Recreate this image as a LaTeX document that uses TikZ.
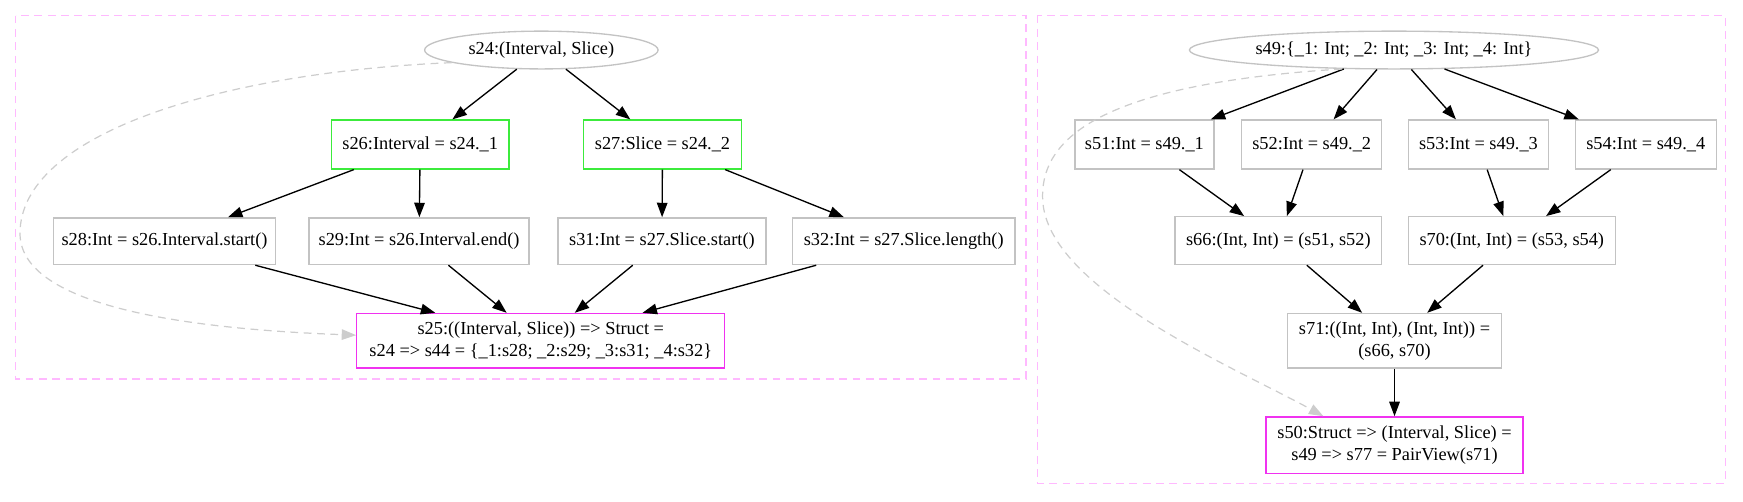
\documentclass[tikz,border=0pt]{standalone}
\usepackage{fontspec}
\setmainfont{Liberation Serif}
\usetikzlibrary{arrows.meta,shapes.geometric}
\definecolor{clpink}{RGB}{255,185,255}
\definecolor{nodegray}{RGB}{195,195,195}
\definecolor{dashgray}{RGB}{205,205,205}
\definecolor{grn}{RGB}{60,235,60}
\definecolor{mag}{RGB}{240,50,240}
\begin{document}
\begin{tikzpicture}[x=1pt,y=-1pt,
 font=\fontsize{16.5}{20}\selectfont,
 box/.style={draw=nodegray, line width=1.2pt, rectangle, inner sep=0pt, align=center},
 ell/.style={draw=nodegray, line width=1.2pt, ellipse, inner sep=0pt},
 grnbox/.style={box, draw=grn},
 magbox/.style={box, draw=mag},
 cluster/.style={draw=clpink, line width=1.1pt, dash pattern=on 7pt off 5pt},
 edge/.style={-{Triangle[length=13pt,width=9.5pt]}, line width=1.2pt, black},
 dedge/.style={-{Triangle[length=13pt,width=9.5pt]}, line width=1.1pt, dashgray, dash pattern=on 7pt off 5pt}]
\useasboundingbox (0,0) rectangle (1568,451);
% clusters
\draw[cluster] (14,14) rectangle (923,341);
\draw[cluster] (933,14) rectangle (1552,435);
% left cluster nodes
\node[ell, minimum width=210pt, minimum height=34pt] (s24) at (487,45) {s24:(Interval, Slice)};
\node[grnbox, minimum width=160pt, minimum height=44pt] (s26) at (378,130) {s26:Interval = s24.\_1};
\node[grnbox, minimum width=142pt, minimum height=44pt] (s27) at (596,130) {s27:Slice = s24.\_2};
\node[box, minimum width=200pt, minimum height=42pt] (s28) at (148,217) {s28:Int = s26.Interval.start()};
\node[box, minimum width=198pt, minimum height=42pt] (s29) at (377,217) {s29:Int = s26.Interval.end()};
\node[box, minimum width=187pt, minimum height=42pt] (s31) at (595.5,217) {s31:Int = s27.Slice.start()};
\node[box, minimum width=200pt, minimum height=42pt] (s32) at (813,217) {s32:Int = s27.Slice.length()};
\node[magbox, minimum width=331pt, minimum height=49pt] (s25) at (486.5,306.5) {s25:((Interval, Slice)) => Struct =\\s24 => s44 = \{\_1:s28; \_2:s29; \_3:s31; \_4:s32\}};
% right cluster nodes
\node[ell, minimum width=368pt, minimum height=34pt] (s49) at (1254,45) {s49:\{\_1: Int; \_2: Int; \_3: Int; \_4: Int\}};
\node[box, minimum width=125pt, minimum height=44pt] (s51) at (1029.5,130) {s51:Int = s49.\_1};
\node[box, minimum width=126pt, minimum height=44pt] (s52) at (1180,130) {s52:Int = s49.\_2};
\node[box, minimum width=126pt, minimum height=44pt] (s53) at (1330,130) {s53:Int = s49.\_3};
\node[box, minimum width=127pt, minimum height=44pt] (s54) at (1480.5,130) {s54:Int = s49.\_4};
\node[box, minimum width=186pt, minimum height=43pt] (s66) at (1150,216.5) {s66:(Int, Int) = (s51, s52)};
\node[box, minimum width=186pt, minimum height=43pt] (s70) at (1360,216.5) {s70:(Int, Int) = (s53, s54)};
\node[box, minimum width=193pt, minimum height=49pt] (s71) at (1254.5,306.5) {s71:((Int, Int), (Int, Int)) =\\(s66, s70)};
\node[magbox, minimum width=231pt, minimum height=51pt] (s50) at (1254.5,400.5) {s50:Struct => (Interval, Slice) =\\s49 => s77 = PairView(s71)};
% left edges
\draw[edge] (s24) -- (s26);
\draw[edge] (s24) -- (s27);
\draw[edge] (s26) -- (s28);
\draw[edge] (s26) -- (s29);
\draw[edge] (s27) -- (s31);
\draw[edge] (s27) -- (s32);
\draw[edge] (s28) -- (s25);
\draw[edge] (s29) -- (s25);
\draw[edge] (s31) -- (s25);
\draw[edge] (s32) -- (s25);
\draw[dedge] (s24.188) .. controls (200,65) and (18,120) .. (18,210) .. controls (18,282) and (200,297) .. ([yshift=5pt]s25.west);
% right edges
\draw[edge] (s49) -- (s51);
\draw[edge] (s49) -- (s52);
\draw[edge] (s49) -- (s53);
\draw[edge] (s49) -- (s54);
\draw[edge] (s51) -- (s66);
\draw[edge] (s52) -- (s66);
\draw[edge] (s53) -- (s70);
\draw[edge] (s54) -- (s70);
\draw[edge] (s66) -- (s71);
\draw[edge] (s70) -- (s71);
\draw[edge] (s71) -- (s50);
\draw[dedge] (s49.200) .. controls (1000,75) and (935,120) .. (938,180) .. controls (942,260) and (1110,330) .. ([xshift=-64pt]s50.north);
\end{tikzpicture}
\end{document}
